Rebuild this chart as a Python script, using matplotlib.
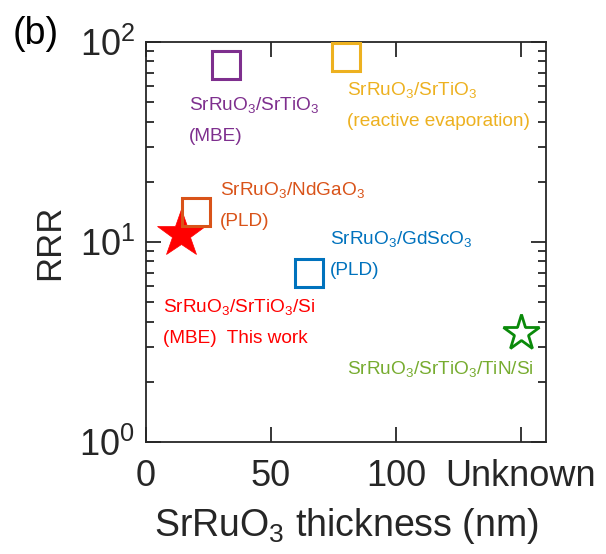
import matplotlib
matplotlib.use("Agg")
import matplotlib.pyplot as plt
from matplotlib.ticker import FixedLocator, LogLocator, NullFormatter

plt.rcParams['font.family'] = ['Liberation Sans', 'DejaVu Sans']
plt.rcParams['mathtext.fontset'] = 'custom'
plt.rcParams['mathtext.rm'] = 'Liberation Sans'
plt.rcParams['mathtext.it'] = 'Liberation Sans:italic'
plt.rcParams['mathtext.bf'] = 'Liberation Sans:bold'

# Data
samples = ["SrRuO3/SrTiO3 (MBE)", "SrRuO3/SrTiO3 (reactive evaporation)",
           "SrRuO3/NdGaO3 (PLD)", "SrRuO3/GdScO3 (PLD)",
           "SrRuO3/SrTiO3/Si (MBE) This work", "SrRuO3/SrTiO3/TiN/Si"]
thickness = [32, 80, 20, 65, 14, 150]   # 150 = "Unknown"
rrr = [77, 84, 14.2, 7.0, 11.0, 3.5]
markers = ['s', 's', 's', 's', '*', '*']
colors = ['#7E2F8E', '#EDB120', '#D95319', '#0072BD', '#FF0000', '#0A8A0A']
filled = [False, False, False, False, True, False]

label_lines = [
    ["SrRuO$_3$/SrTiO$_3$", "(MBE)"],
    ["SrRuO$_3$/SrTiO$_3$", "(reactive evaporation)"],
    ["SrRuO$_3$/NdGaO$_3$", "(PLD)"],
    ["SrRuO$_3$/GdScO$_3$", "(PLD)"],
    ["SrRuO$_3$/SrTiO$_3$/Si", "(MBE)  This work"],
    ["SrRuO$_3$/SrTiO$_3$/TiN/Si"],
]
label_colors = ['#7E2F8E', '#EDB120', '#D95319', '#0072BD', '#FF0000', '#77AC30']
# label anchor (x in data units, first-line baseline in RRR units)
label_x = [17.2, 80.4, 29.6, 73.6, 6.7, 80.4]
label_y = [45.7, 54.3, 17.2, 9.77, 4.47, 2.19]

xticks = [0, 50, 100, 150]
xticklabels = ['0', '50', '100', 'Unknown']

fig = plt.figure(figsize=(6.06, 5.54), dpi=100)
ax = fig.add_axes([146/606, 1-442/554, 400/606, 400/554])
ax.set_yscale('log')
ax.set_xlim(0, 160)
ax.set_ylim(1, 100)

for x, y, m, c, f in zip(thickness, rrr, markers, colors, filled):
    if m == 's':
        ax.plot([x], [y], marker='s', markersize=19.5, markerfacecolor='none',
                markeredgecolor=c, markeredgewidth=2.2, linestyle='none', zorder=3)
    elif f:
        ax.plot([x], [y], marker='*', markersize=36, markerfacecolor=c,
                markeredgecolor=c, markeredgewidth=0.5, linestyle='none', zorder=2)
    else:
        ax.plot([x], [y], marker='*', markersize=27, markerfacecolor='none',
                markeredgecolor=c, markeredgewidth=2.0, linestyle='none', zorder=3)

# labels: second line ~31 px lower (~0.155 decade)
for lines, lx, ly, lc in zip(label_lines, label_x, label_y, label_colors):
    for i, s in enumerate(lines):
        yy = ly / (10 ** (0.155 * i))
        ax.text(lx, yy, s, color=lc, fontsize=13.7, ha='left', va='baseline')

axc = '#262626'
ax.xaxis.set_major_locator(FixedLocator(xticks))
ax.set_xticklabels(xticklabels)
ax.yaxis.set_major_locator(LogLocator(base=10, numticks=10))
ax.yaxis.set_minor_locator(LogLocator(base=10, subs=range(2, 10), numticks=20))
ax.yaxis.set_minor_formatter(NullFormatter())
ax.tick_params(axis='both', which='major', direction='in', length=11, width=1.3,
               colors=axc, labelsize=26, top=True, right=True)
ax.tick_params(axis='both', which='minor', direction='in', length=6, width=1.3,
               colors=axc, top=True, right=True)
ax.tick_params(axis='x', which='major', pad=12)
ax.tick_params(axis='y', which='major', pad=8)
for sp in ax.spines.values():
    sp.set_color(axc)
    sp.set_linewidth(1.3)

ax.set_xlabel("SrRuO$_3$ thickness (nm)", fontsize=27, color=axc)
ax.xaxis.set_label_coords(0.5, -0.235)
ax.xaxis.label.set_verticalalignment('baseline')
ax.set_ylabel("RRR", fontsize=25, color=axc)
ax.yaxis.set_label_coords(-0.241, 0.5)
ax.yaxis.label.set_verticalalignment('center')

fig.text(13/606, 1-34/554, "(b)", fontsize=27, color='black', ha='left', va='center')

fig.savefig("out.png", dpi=100)
